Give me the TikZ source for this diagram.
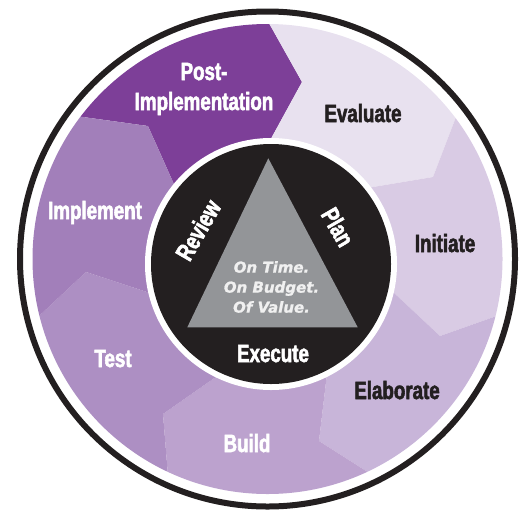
\documentclass[tikz,border=0pt]{standalone}
\usepackage{fontspec}
\usepackage{tikz}
\usetikzlibrary{calc,positioning}
\newfontfamily\condfont[FakeStretch=0.75,FakeBold=2.2]{Liberation Sans Bold}
\newfontfamily\obliquefont[FakeBold=1.2]{DejaVu Sans Bold Oblique}
\definecolor{ringblack}{HTML}{231F20}
\definecolor{triangrey}{HTML}{939598}
\definecolor{postcol}{HTML}{7D3F98}
\definecolor{evalcol}{HTML}{E8E1EF}
\definecolor{initcol}{HTML}{D9CBE4}
\definecolor{elabcol}{HTML}{C8B5D9}
\definecolor{buildcol}{HTML}{BCA2CE}
\definecolor{testcol}{HTML}{AD8FC3}
\definecolor{implcol}{HTML}{A27FBA}
\tikzset{
  stage/.style={font=\condfont\fontsize{25}{30}\selectfont,text height=18pt,text depth=0pt,inner sep=0pt,align=center,ringblack},
  whitestage/.style={stage,white},
  goal/.style={font=\obliquefont\fontsize{15}{20}\selectfont,inner sep=0pt,align=center,white!94!black}
}
\begin{document}
\begin{tikzpicture}[x=1pt,y=-1pt]
\useasboundingbox (0,0) rectangle (526,514);
\coordinate (O) at (267.5,259);
\coordinate (C) at (271,264);
\coordinate (P-o) at (83,117);  \coordinate (P-t) at (148,126); \coordinate (P-i) at (173,182);
\coordinate (E-o) at (270,25);  \coordinate (E-t) at (302,82);  \coordinate (E-i) at (273,135);
\coordinate (I-o) at (456,117); \coordinate (I-t) at (433,177); \coordinate (I-i) at (373,187);
\coordinate (L-o) at (505,313); \coordinate (L-t) at (440,336); \coordinate (L-i) at (393,292);
\coordinate (B-o) at (374,476); \coordinate (B-t) at (319,441); \coordinate (B-i) at (326,382);
\coordinate (T-o) at (168,476); \coordinate (T-t) at (163,414); \coordinate (T-i) at (213,379);
\coordinate (M-o) at (38,317);  \coordinate (M-t) at (86,272);  \coordinate (M-i) at (147,292);
\draw[ringblack,line width=6pt] (O) circle[radius=247.5pt];
\begin{scope}
\clip (O) circle[radius=235pt];
\foreach \a/\b/\c in {P/E/postcol,E/I/evalcol,I/L/initcol,L/B/elabcol,B/T/buildcol,T/M/testcol,M/P/implcol}
  \fill[\c] ($(\a-t)!2.5!(\a-o)$) -- (\a-t) -- ($(\a-t)!2!(\a-i)$) -- ($(\b-t)!2!(\b-i)$) -- (\b-t) -- ($(\b-t)!2.5!(\b-o)$) -- cycle;
\end{scope}
\fill[white] (C) circle[radius=126pt];
\fill[ringblack] (C) circle[radius=120pt];
\fill[triangrey] (268.3,158.3) coordinate(apex) -- (187.3,327.3) coordinate(baseL) -- (357.7,327.3) coordinate(baseR) -- cycle;
\node[whitestage,text height=,text depth=] (post) at (204,89) {Post-\\Implementation};
\node[stage] (evaluate) at (363,113) {Evaluate};
\node[stage] (initiate) at (445,243) {Initiate};
\node[stage] (elaborate) at (397,390) {Elaborate};
\node[whitestage] (build) at (247,443) {Build};
\node[whitestage] (test) at (113,358) {Test};
\node[whitestage] (implement) at (95,210) {Implement};
\node[whitestage,rotate=60] (review) at (198,230) {Review};
\node[whitestage,rotate=-60] (plan) at (338,227) {Plan};
\node[whitestage] (execute) at (273,353) {Execute};
\node[goal] (target) at (271.5,287) {On Time.\\On Budget.\\Of Value.};
\end{tikzpicture}
\end{document}
